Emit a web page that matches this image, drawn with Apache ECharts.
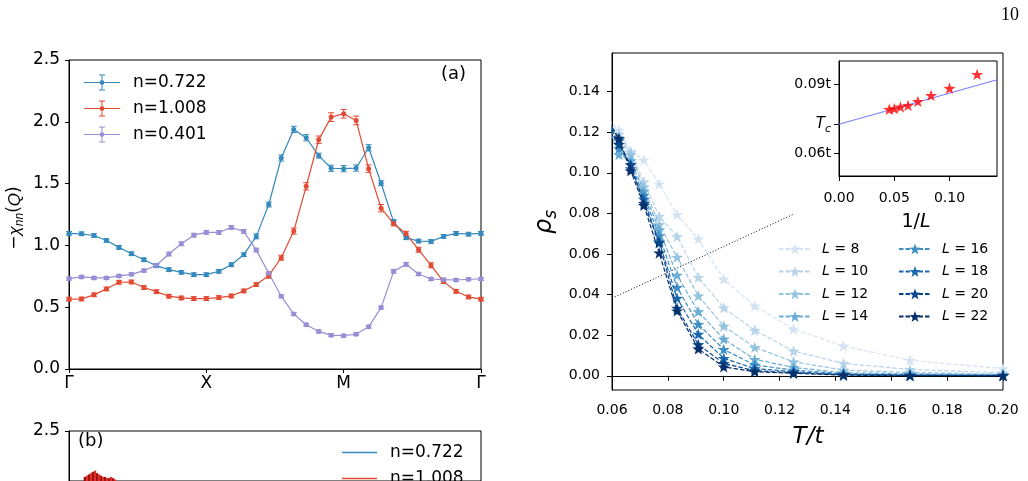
<!DOCTYPE html>
<html><head><meta charset="utf-8">
<script src="https://cdn.jsdelivr.net/npm/echarts@6/dist/echarts.min.js"></script>
<style>html,body{margin:0;padding:0;background:#fff}#c{width:1028px;height:481px}</style>
</head><body><div id="c"></div>
<script>
// ---------- panel (a): -chi_nn(Q) along Γ-X-M-Γ ----------
const kTickPos = [0, 11, 22, 33];
const kTickLabels = ['Γ', 'X', 'M', 'Γ'];
const chi0722 = [1.097,1.094,1.080,1.040,0.984,0.933,0.884,0.836,0.804,0.782,0.763,0.763,0.790,0.844,0.925,1.073,1.331,1.707,1.938,1.871,1.726,1.624,1.621,1.626,1.790,1.503,1.190,1.062,1.035,1.032,1.073,1.097,1.091,1.097];
const chi1008 = [0.565,0.567,0.600,0.648,0.702,0.704,0.659,0.626,0.589,0.575,0.570,0.570,0.578,0.591,0.632,0.683,0.755,0.900,1.116,1.478,1.855,2.038,2.065,2.011,1.621,1.301,1.177,1.094,0.965,0.839,0.707,0.629,0.583,0.565];
const chi0401 = [0.731,0.745,0.737,0.737,0.753,0.766,0.796,0.839,0.930,1.013,1.083,1.105,1.105,1.145,1.113,0.962,0.774,0.589,0.444,0.358,0.304,0.274,0.269,0.282,0.341,0.497,0.790,0.847,0.769,0.728,0.723,0.720,0.726,0.728];
const err0722 = [0.015,0.015,0.015,0.015,0.015,0.015,0.015,0.015,0.015,0.015,0.015,0.015,0.015,0.015,0.015,0.02,0.02,0.025,0.025,0.025,0.02,0.025,0.025,0.025,0.025,0.02,0.02,0.015,0.015,0.015,0.015,0.015,0.015,0.015];
const err1008 = [0.015,0.015,0.015,0.015,0.015,0.015,0.015,0.015,0.015,0.015,0.015,0.015,0.015,0.015,0.015,0.015,0.02,0.02,0.025,0.03,0.03,0.035,0.035,0.035,0.03,0.03,0.02,0.02,0.02,0.02,0.015,0.015,0.015,0.015];
const err0401 = [0.012,0.012,0.012,0.012,0.012,0.012,0.012,0.012,0.015,0.015,0.015,0.015,0.015,0.015,0.015,0.015,0.012,0.012,0.012,0.012,0.012,0.012,0.012,0.012,0.012,0.012,0.015,0.015,0.012,0.012,0.012,0.012,0.012,0.012];
const chiYTicks = [0, 0.5, 1.0, 1.5, 2.0, 2.5];

// ---------- panel (b): visible top of histogram ----------
const histYTicks = [2.5];
const histDarkX = [1.28, 1.60, 1.92, 2.24, 2.56, 2.88, 3.20, 3.52];
const histDarkH = [2.13, 2.15, 2.17, 2.16, 2.14, 2.13, 2.12, 2.12];
const histRedX = [1.44, 1.76, 2.08, 2.40, 2.72, 3.04, 3.36, 3.68];
const histRedH = [2.14, 2.16, 2.18, 2.15, 2.13, 2.12, 2.13, 2.11];

// ---------- right panel: rho_s vs T/t ----------
const Tvals = [0.0588, 0.0625, 0.0667, 0.0714, 0.0769, 0.0833, 0.0909, 0.1, 0.1111, 0.125, 0.1429, 0.1667, 0.2];
const Lsizes = [8, 10, 12, 14, 16, 18, 20, 22];
const rhoL8  = [0.126, 0.121, 0.1107, 0.1063, 0.0945, 0.0794, 0.0674, 0.0476, 0.0344, 0.0230, 0.0147, 0.0076, 0.0035];
const rhoL10 = [0.125, 0.119, 0.1100, 0.0955, 0.0786, 0.0686, 0.0485, 0.0335, 0.0224, 0.0122, 0.0061, 0.0031, 0.0015];
const rhoL12 = [0.124, 0.117, 0.1090, 0.0930, 0.0745, 0.0584, 0.0394, 0.0245, 0.0140, 0.0069, 0.0028, 0.0016, 0.0008];
const rhoL14 = [0.122, 0.109, 0.1060, 0.0910, 0.0720, 0.0496, 0.0316, 0.0181, 0.0081, 0.0041, 0.0015, 0.0010, 0.0005];
const rhoL16 = [0.124, 0.112, 0.1040, 0.0890, 0.0690, 0.0436, 0.0254, 0.0130, 0.0053, 0.0028, 0.0010, 0.0005, 0.0003];
const rhoL18 = [0.125, 0.116, 0.1020, 0.0870, 0.0660, 0.0382, 0.0205, 0.0086, 0.0036, 0.0020, 0.0007, 0.0003, 0.0002];
const rhoL20 = [0.124, 0.114, 0.1040, 0.0850, 0.0655, 0.0333, 0.0154, 0.0061, 0.0025, 0.0015, 0.0005, 0.0002, 0.0001];
const rhoL22 = [0.125, 0.117, 0.1010, 0.0840, 0.0605, 0.0320, 0.0133, 0.0044, 0.0020, 0.0012, 0.0003, 0.0001, 0.0001];
const rhoAll = [rhoL8, rhoL10, rhoL12, rhoL14, rhoL16, rhoL18, rhoL20, rhoL22];
const bktT = [0.06, 0.125];
const bktRho = [0.0382, 0.0796];
const rhoXTicks = [0.06, 0.08, 0.10, 0.12, 0.14, 0.16, 0.18, 0.20];
const rhoYTicks = [0, 0.02, 0.04, 0.06, 0.08, 0.10, 0.12, 0.14];

// ---------- inset: T_c(L) vs 1/L ----------
const invL = [0.125, 0.1, 0.0833, 0.0714, 0.0625, 0.0556, 0.05, 0.0455];
const TcL = [0.0943, 0.0883, 0.0852, 0.0826, 0.0809, 0.0802, 0.0795, 0.0792];
const fitX = [0, 0.143];
const fitY = [0.0727, 0.0920];
const insetXTicks = [0, 0.05, 0.10];
const insetYTicks = [0.06, 0.0727, 0.09];
const insetYLabels = ['0.06t', '{i|T}{s|c}', '0.09t'];

const FONT = 'DejaVu Sans';
const blues = ['#d3e3f3', '#b7d4ea', '#94c4df', '#6aaed6', '#3f8fc5', '#1a68ae', '#08468b', '#08306b'];
const cBlue = '#348ABD', cRed = '#E24A33', cPurple = '#988ED5';
const starPath = 'path://M0,-10L2.35,-3.24L9.51,-3.09L3.8,1.24L5.88,8.09L0,4L-5.88,8.09L-3.8,1.24L-9.51,-3.09L-2.35,-3.24Z';
// legend icon: line + dot + error bar with caps (36 x 16 box)
const errIcon = 'path://M0,7.4H36V8.6H0Z M17.5,0H18.5V16H17.5Z M15,0H21V1H15Z M15,15H21V16H15Z M18,5.5L19.8,6.2L20.5,8L19.8,9.8L18,10.5L16.2,9.8L15.5,8L16.2,6.2Z';
const lineIcon = 'path://M0,0H35V1.5H0Z';

function errRender(params, api) {
  const x = api.value(0), y = api.value(1), e = api.value(2);
  const lo = api.coord([x, y - e]), hi = api.coord([x, y + e]);
  const w = 3;
  const st = { stroke: api.visual('color'), lineWidth: 1 };
  return { type: 'group', children: [
    { type: 'line', shape: { x1: lo[0], y1: lo[1], x2: hi[0], y2: hi[1] }, style: st },
    { type: 'line', shape: { x1: lo[0] - w, y1: lo[1], x2: lo[0] + w, y2: lo[1] }, style: st },
    { type: 'line', shape: { x1: hi[0] - w, y1: hi[1], x2: hi[0] + w, y2: hi[1] }, style: st }
  ]};
}

const axLine = { show: true, lineStyle: { color: '#000', width: 1 } };
function mkAxis(extra, tickVals, fmt, fs, margin, tlen) {
  return Object.assign({
    type: 'value', axisLine: axLine, splitLine: { show: false },
    axisTick: { show: true, inside: false, length: tlen || 4, customValues: tickVals, lineStyle: { color: '#000' } },
    axisLabel: { customValues: tickVals, formatter: fmt, color: '#000', fontFamily: FONT, fontSize: fs, margin: margin }
  }, extra);
}

const series = [];
// panel (a)
[[chi0722, err0722, cBlue, 'n=0.722'], [chi1008, err1008, cRed, 'n=1.008'], [chi0401, err0401, cPurple, 'n=0.401']].forEach(([v, e, c, n]) => {
  series.push({ type: 'custom', name: n + '_err', xAxisIndex: 0, yAxisIndex: 0, renderItem: errRender,
    itemStyle: { color: c, opacity: 0.6 }, data: v.map((y, i) => [i, y, e[i]]), z: 1, silent: true });
  series.push({ type: 'line', name: n, xAxisIndex: 0, yAxisIndex: 0, data: v.map((y, i) => [i, y]),
    symbol: 'circle', symbolSize: 5, showSymbol: true, color: c, lineStyle: { width: 1.2, color: c }, itemStyle: { color: c }, z: 2 });
});
// panel (b)
series.push({ type: 'bar', name: 'histDark', xAxisIndex: 1, yAxisIndex: 1, barWidth: 2.5, data: histDarkX.map((x, i) => [x, histDarkH[i]]), itemStyle: { color: '#8b0a0a' } });
series.push({ type: 'bar', name: 'histRed', xAxisIndex: 1, yAxisIndex: 1, barWidth: 2.5, barGap: '-100%', data: histRedX.map((x, i) => [x, histRedH[i]]), itemStyle: { color: '#e0302a' } });
series.push({ type: 'line', name: 'n=0.722 ', xAxisIndex: 1, yAxisIndex: 1, data: [], symbol: 'none', color: cBlue, lineStyle: { color: cBlue, width: 1.5 } });
series.push({ type: 'line', name: 'n=1.008 ', xAxisIndex: 1, yAxisIndex: 1, data: [], symbol: 'none', color: cRed, lineStyle: { color: cRed, width: 1.5 } });
// right panel
series.push({ type: 'line', name: 'bkt', xAxisIndex: 2, yAxisIndex: 2, data: bktT.map((t, i) => [t, bktRho[i]]), symbol: 'none',
  lineStyle: { color: '#000', width: 1, type: [1, 2] }, z: 1 });
Lsizes.forEach((L, j) => {
  series.push({ type: 'line', name: 'L = ' + L, xAxisIndex: 2, yAxisIndex: 2, clip: true,
    data: Tvals.map((t, i) => [t, rhoAll[j][i]]), symbol: starPath, symbolSize: 12, symbolKeepAspect: true,
    color: blues[j], itemStyle: { color: blues[j] }, lineStyle: { color: blues[j], width: 1.2, type: [4.5, 2] }, z: 2 + j });
});
// inset
series.push({ type: 'line', name: 'fit', xAxisIndex: 3, yAxisIndex: 3, data: fitX.map((x, i) => [x, fitY[i]]), symbol: 'none',
  lineStyle: { color: '#7f7fff', width: 1.2 }, z: 20 });
series.push({ type: 'scatter', name: 'TcL', xAxisIndex: 3, yAxisIndex: 3, data: invL.map((x, i) => [x, TcL[i]]),
  symbol: starPath, symbolSize: 12, symbolKeepAspect: true, itemStyle: { color: '#ff0000' }, z: 21 });

const legText17 = { fontFamily: FONT, fontSize: 17, color: '#000', padding: [0, 0, 0, 8] };
const legTextL = { fontFamily: FONT, fontSize: 14, color: '#000', padding: [0, 0, 0, 6], rich: { i: { fontStyle: 'italic', fontSize: 14, fontFamily: FONT } } };

const option = {
  animation: false,
  backgroundColor: '#fff',
  textStyle: { fontFamily: FONT },
  grid: [
    { left: 69, top: 60, width: 412, height: 309, show: true, borderColor: '#000', borderWidth: 1, backgroundColor: 'transparent' },
    { left: 69, top: 431, width: 412, height: 50, show: true, borderColor: '#000', borderWidth: 1, backgroundColor: 'transparent' },
    { left: 612, top: 53, width: 391, height: 337, show: true, borderColor: '#000', borderWidth: 1, backgroundColor: 'transparent' },
    { left: 839, top: 61, width: 158, height: 115, show: true, borderColor: '#000', borderWidth: 1, backgroundColor: '#fff' }
  ],
  xAxis: [
    mkAxis({ gridIndex: 0, min: 0, max: 33 }, kTickPos, v => kTickLabels[kTickPos.indexOf(v)], 17, 6, 4),
    mkAxis({ gridIndex: 1, min: 0, max: 33, show: false }, kTickPos, v => '', 17, 6, 4),
    mkAxis({ gridIndex: 2, min: 0.06, max: 0.2 }, rhoXTicks, v => v.toFixed(2), 14, 13, 5),
    mkAxis({ gridIndex: 3, min: 0, max: 0.143 }, insetXTicks, v => v.toFixed(2), 14, 15, 5)
  ],
  yAxis: [
    mkAxis({ gridIndex: 0, min: 0, max: 2.5 }, chiYTicks, v => v.toFixed(1), 17, 9, 4),
    mkAxis({ gridIndex: 1, min: 2.097, max: 2.5 }, histYTicks, v => v.toFixed(1), 17, 9, 4),
    mkAxis({ gridIndex: 2, min: -0.007, max: 0.159 }, rhoYTicks, v => v.toFixed(2), 14, 12, 5),
    mkAxis({ gridIndex: 3, min: 0.0503, max: 0.1001 }, insetYTicks, v => insetYLabels[insetYTicks.indexOf(v)], 14, 8, 5)
  ],
  legend: [
    { data: [{ name: 'n=0.722', icon: errIcon }, { name: 'n=1.008', icon: errIcon }, { name: 'n=0.401', icon: errIcon }],
      left: 84, top: 74, orient: 'vertical', padding: 0, selectedMode: false,
      itemWidth: 36, itemHeight: 16, itemGap: 9, textStyle: legText17 },
    { data: [{ name: 'n=0.722 ', icon: lineIcon }], left: 342, top: 444, orient: 'vertical', padding: 0, selectedMode: false,
      itemWidth: 35, itemHeight: 1.5, itemGap: 12, textStyle: legText17 },
    { data: [{ name: 'n=1.008 ', icon: lineIcon }], left: 342, top: 470, orient: 'vertical', padding: 0, selectedMode: false,
      itemWidth: 35, itemHeight: 1.5, itemGap: 12, textStyle: legText17 },
    { data: ['L = 8', 'L = 10', 'L = 12', 'L = 14'], left: 778, top: 242, orient: 'vertical', padding: 0, selectedMode: false,
      itemWidth: 32, itemHeight: 14, itemGap: 8.5, formatter: n => '{i|L}' + n.slice(1), textStyle: legTextL },
    { data: ['L = 16', 'L = 18', 'L = 20', 'L = 22'], left: 898, top: 242, orient: 'vertical', padding: 0, selectedMode: false,
      itemWidth: 32, itemHeight: 14, itemGap: 8.5, formatter: n => '{i|L}' + n.slice(1), textStyle: legTextL }
  ],
  graphic: [
    { type: 'text', left: 1001, top: 6, style: { text: '10', font: '18px "Liberation Serif"', fill: '#000' } },
    { type: 'text', left: 441, top: 65, style: { text: '(a)', font: '18px "DejaVu Sans"', fill: '#000' } },
    { type: 'text', left: 78, top: 432, style: { text: '(b)', font: '18px "DejaVu Sans"', fill: '#000' } },
    { type: 'text', x: 15, y: 218, rotation: Math.PI / 2, style: { text: '−{i|χ}{s|nn}({i|Q})', fill: '#000', align: 'center', verticalAlign: 'middle',
        font: '17px "DejaVu Sans"', rich: { i: { fontStyle: 'italic', fontSize: 17, lineHeight: 22 }, s: { fontStyle: 'italic', fontSize: 12, verticalAlign: 'bottom', lineHeight: 22 } } } },
    { type: 'text', x: 545, y: 222, rotation: Math.PI / 2, style: { text: '{i|ρ}{s|s}', fill: '#000', align: 'center', verticalAlign: 'middle',
        rich: { i: { fontStyle: 'italic', fontSize: 24, lineHeight: 30, fontFamily: FONT }, s: { fontStyle: 'italic', fontSize: 17, verticalAlign: 'bottom', lineHeight: 30, fontFamily: FONT } } } },
    { type: 'text', x: 808, y: 437, style: { text: 'T/t', font: 'italic 23px "DejaVu Sans"', fill: '#000', align: 'center', verticalAlign: 'middle' } },
    { type: 'text', x: 916, y: 222, style: { text: '1/{i|L}', font: '19px "DejaVu Sans"', fill: '#000', align: 'center', verticalAlign: 'middle',
        rich: { i: { fontStyle: 'italic', fontSize: 19, fontFamily: FONT } } } }
  ],
  series: series
};
option.yAxis[3].axisLabel.rich = { i: { fontStyle: 'italic', fontSize: 15, fontFamily: FONT, lineHeight: 20 }, s: { fontStyle: 'italic', fontSize: 11, fontFamily: FONT, verticalAlign: 'bottom', lineHeight: 20 } };

const chart = echarts.init(document.getElementById('c'), null, { renderer: 'canvas' });
chart.setOption(option);
</script>
</body></html>
